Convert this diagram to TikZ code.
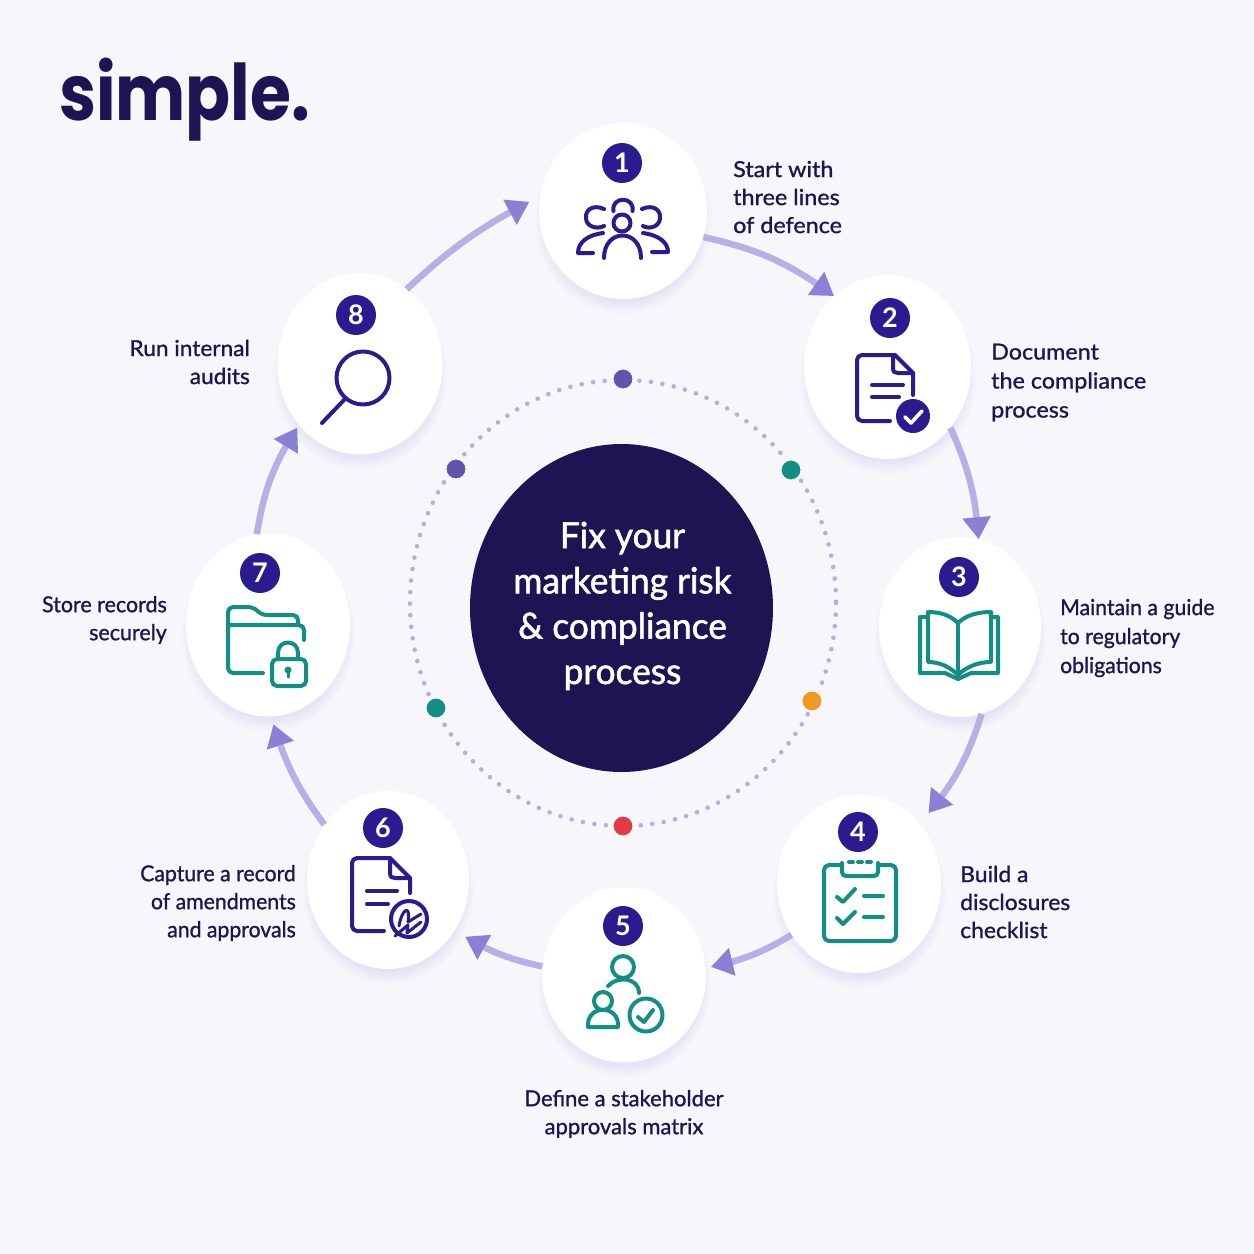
\documentclass[tikz,border=0pt]{standalone}
\usepackage{xcolor}
\usepackage{fontspec}
\usepackage{tikz}
\usetikzlibrary{shapes.geometric}
\usetikzlibrary{arrows.meta}
\usetikzlibrary{bending}
\usetikzlibrary{shadows}
\setmainfont{Lato}
\newfontfamily\labelfont{Lato}[FakeBold=1]
\newfontfamily\titlefont{Lato}[FakeBold=1.6]
\newfontfamily\logofont{Poppins}
\definecolor{paper}{HTML}{F7F6FB}
\definecolor{navy}{HTML}{1D1454}
\definecolor{indigo}{HTML}{2A1C90}
\definecolor{teal}{HTML}{128F84}
\definecolor{flowtail}{HTML}{B7B0E6}
\definecolor{flowhead}{HTML}{8A81D6}
\definecolor{ringdot}{HTML}{B5AEE5}

\begin{document}
\begin{tikzpicture}[x=1pt,y=-1pt,
	main node/.style={ellipse, fill=white, inner sep=0pt, circular drop shadow={shadow xshift=0pt, shadow yshift=-9pt, shadow scale=1.06, opacity=.17, fill=flowhead}},
	badge/.style={circle, fill=indigo, text=white, inner sep=0pt, minimum size=40pt, font=\fontsize{27}{27}\selectfont\bfseries},
	ring dot/.style={circle, inner sep=0pt, minimum size=21pt, draw=paper, line width=2pt},
	step label/.style={inner sep=0pt, text=navy, font=\labelfont\fontsize{22}{28}\selectfont},
	flow/.style={line width=6.5pt, draw=flowtail, -{Triangle[length=22pt,width=27pt,color=flowhead]}},
	blue icon/.style={draw=indigo, line width=4pt, line cap=round, line join=round},
	green icon/.style={draw=teal, line width=4pt, line cap=round, line join=round}]
			\fill[paper] (0,0) rectangle (1254,1254);
			\useasboundingbox (0,0) rectangle (1254,1254);
			
			% Logo
			\node[inner sep=0pt, anchor=base west, text=navy, xscale=.85, font=\logofont\bfseries\fontsize{78}{78}\selectfont] (logo) at (59,120) {simple.};
			
			% Dotted ring
			\draw[ringdot, line width=4.6pt, line cap=round, dash pattern=on 0pt off 11.6pt] (623,603) ellipse [x radius=213, y radius=223];
			\node[ring dot, fill=indigo!75!white] (d1) at (623,379) {};
			\node[ring dot, fill=teal] (d2) at (791,470) {};
			\node[ring dot, fill={rgb,255:red,240;green,152;blue,31}] (d3) at (812,701) {};
			\node[ring dot, fill={rgb,255:red,228;green,58;blue,69}] (d4) at (623,826) {};
			\node[ring dot, fill=teal] (d5) at (436,708) {};
			\node[ring dot, fill=indigo!75!white] (d6) at (456,469) {};
			
			% Centre
			\node[ellipse, fill=navy, inner sep=0pt, minimum width=303pt, minimum height=328pt] (0) at (621.5,608) {};
			\node[inner sep=0pt, text=white, align=center, xscale=.98, font=\titlefont\fontsize{36}{45.3}\selectfont] (title) at (622.5,606) {Fix your\\marketing risk\\\& compliance\\process};
			
			% Nodes
			\node[main node, minimum width=168pt, minimum height=176pt] (1) at (623,211) {};
			\node[main node, minimum width=167pt, minimum height=184pt] (2) at (887.5,367) {};
			\node[main node, minimum width=162pt, minimum height=180pt] (3) at (960,627) {};
			\node[main node, minimum width=164pt, minimum height=178pt] (4) at (859,884) {};
			\node[main node, minimum width=164pt, minimum height=175pt] (5) at (624,975) {};
			\node[main node, minimum width=162pt, minimum height=178pt] (6) at (388,880) {};
			\node[main node, minimum width=164pt, minimum height=183pt] (7) at (268,625) {};
			\node[main node, minimum width=165pt, minimum height=181pt] (8) at (360,364) {};
			
			\path
			(1.-18) edge[flow, bend left=12] (2.127)
			(2.-44) edge[flow, bend left=10] (3.78)
			(3.-76) edge[flow, bend left=12, shorten >=14pt] (4.45)
			(4.-143) edge[flow, bend left=10, shorten >=5pt] (5.5)
			(5.174) edge[flow, bend left=10, shorten >=12pt] (6.-37)
			(6.139) edge[flow, bend left=10, shorten >=8pt] (7.-88)
			(7.97) edge[flow, bend left=12, shorten >=3pt] (8.-135)
			(8.58) edge[flow, bend left=8, shorten >=12pt] (1.170);
			
			% Badges
			\node[badge] (b1) at (622,163) {1};
			\node[badge] (b2) at (890,318) {2};
			\node[badge] (b3) at (959,577) {3};
			\node[badge] (b4) at (858,832) {4};
			\node[badge] (b5) at (623,926) {5};
			\node[badge] (b6) at (383,828) {6};
			\node[badge] (b7) at (260,573) {7};
			\node[badge] (b8) at (356,315) {8};
			
			% Labels
			\node[step label, anchor=west, align=left, xscale=1.06] (t1) at (733,197) {Start with\\three lines\\of defence};
			\node[step label, anchor=west, align=left, xscale=1.06] (t2) at (991,382.5) {Document\\[1pt]the compliance\\[1pt]process};
			\node[step label, anchor=west, align=left, xscale=.965] (t3) at (1060,638) {Maintain a guide\\[1pt]to regulatory\\[1pt]obligations};
			\node[step label, anchor=west, align=left, xscale=1.04] (t4) at (960,902) {Build a\\disclosures\\checklist};
			\node[step label, align=center] (t5) at (624,1114) {Define a stakeholder\\approvals matrix};
			\node[step label, anchor=east, align=right, xscale=.965] (t6) at (296,903) {Capture a record\\of amendments\\and approvals};
			\node[step label, anchor=east, align=right, xscale=.975] (t7) at (167,620) {Store records\\securely};
			\node[step label, anchor=east, align=right, xscale=1.03] (t8) at (250,362) {Run internal\\audits};
			
			% Icon 1
			\draw[blue icon] (622,223) circle [radius=8.5];
			\draw[blue icon] (604,258) .. controls (604,228) and (641,228) .. (641,258);
			\draw[blue icon] (613.5,211) .. controls (611,196) and (635,196) .. (632.5,211);
			\draw[blue icon] (604,209) .. controls (593,204) and (585,210) .. (586,218) .. controls (586,226) and (596,230) .. (604,226);
			\draw[blue icon] (603,233) .. controls (588,235) and (578,242) .. (578,253) -- (593,253);
			\draw[blue icon] (642,209) .. controls (653,204) and (661,210) .. (660,218) .. controls (660,226) and (650,230) .. (643,226);
			\draw[blue icon] (643,233) .. controls (658,235) and (668,242) .. (668,252) -- (652,252);
			
			% Icon 2
			\draw[blue icon, rounded corners=5pt] (890,421) -- (857,421) -- (857,355) -- (895,355);
			\draw[blue icon] (895,355) -- (913,373) -- (913,395);
			\draw[blue icon] (893,357) -- (893,368) .. controls (893,372) and (895,373) .. (898,373) -- (913,373);
			\draw[blue icon] (872,385) -- (903,385) (872,397) -- (899,397);
			\fill[indigo] (913,416) circle [radius=17];
			\draw[line width=3.6pt, draw=white, line cap=round, line join=round] (905,417) -- (911,423) -- (922,411);
			
			% Icon 3
			\draw[green icon] (958,623) .. controls (950,615) and (940,612) .. (928,612) -- (928,662) .. controls (940,662) and (950,667) .. (958,675);
			\draw[green icon] (958,623) .. controls (966,615) and (978,612) .. (991,612) -- (991,662) .. controls (978,662) and (966,667) .. (958,675);
			\draw[green icon] (958,623) -- (958,679);
			\draw[green icon] (927,617) -- (920,617) -- (920,673) -- (945,673) -- (958,679) -- (971,673) -- (998,673) -- (998,617) -- (991,617);
			
			% Icon 4
			\draw[green icon, rounded corners=5pt] (842,865) -- (824,865) -- (824,941) -- (896,941) -- (896,865) -- (878,865);
			\draw[green icon, rounded corners=4pt] (842,863) -- (842,876) -- (878,876) -- (878,863);
			\draw[green icon] (849,862) -- (853,862) (858,862) -- (862,862) (867,862) -- (871,862);
			\draw[green icon] (837,897) -- (843,902) -- (855,889) (864,896) -- (883,896);
			\draw[green icon] (837,918) -- (843,924) -- (855,912) (864,917) -- (883,917);
			
			% Icon 5
			\draw[green icon] (623,967) circle [radius=11];
			\draw[green icon] (608,986) .. controls (618,975) and (639,978) .. (639,993);
			\draw[green icon] (603,1001) circle [radius=9];
			\draw[green icon] (588,1027) .. controls (586,1004) and (620,1004) .. (618,1027) -- cycle;
			\draw[green icon] (646,1015) circle [radius=16.5];
			\draw[green icon] (638,1017) -- (644,1022) -- (653,1010);
			
			% Icon 6
			\draw[blue icon, rounded corners=5pt] (384,931) -- (352,931) -- (352,858) -- (390,858);
			\draw[blue icon] (390,858) -- (410,878) -- (410,893);
			\draw[blue icon] (390,860) -- (390,873) .. controls (390,877) and (392,878) .. (395,878) -- (410,878);
			\draw[blue icon] (367,891) -- (397,891) (367,904) -- (388,904);
			\draw[blue icon, fill=white] (409,919) circle [radius=18];
			\draw[draw=indigo, line width=3pt, line cap=round, line join=round] (399,926) .. controls (402,908) and (411,904) .. (408,922) -- (421,914);
			\draw[draw=indigo, line width=3pt, line cap=round, line join=round] (395,936) -- (408,925) -- (407,933) -- (421,922);
			
			% Icon 7
			\draw[green icon, rounded corners=5pt] (263,673) -- (228,673) -- (228,607) -- (253,607) -- (262,615) -- (298,615) -- (298,625);
			\draw[green icon, rounded corners=5pt] (229,625) -- (304,625) -- (304,640);
			\draw[green icon, rounded corners=5pt, fill=white] (272,659) rectangle (306,686);
			\draw[green icon] (278,659) -- (278,653) .. controls (278,639) and (298,639) .. (298,653) -- (298,659);
			\fill[teal] (288,670) circle [radius=3.5];
			\draw[green icon, line width=3pt] (288,670) -- (288,677);
			
			% Icon 8
			\draw[blue icon] (363,378) circle [radius=26.5];
			\draw[blue icon] (344,400) -- (322,423);
			
		\end{tikzpicture}
\end{document}
